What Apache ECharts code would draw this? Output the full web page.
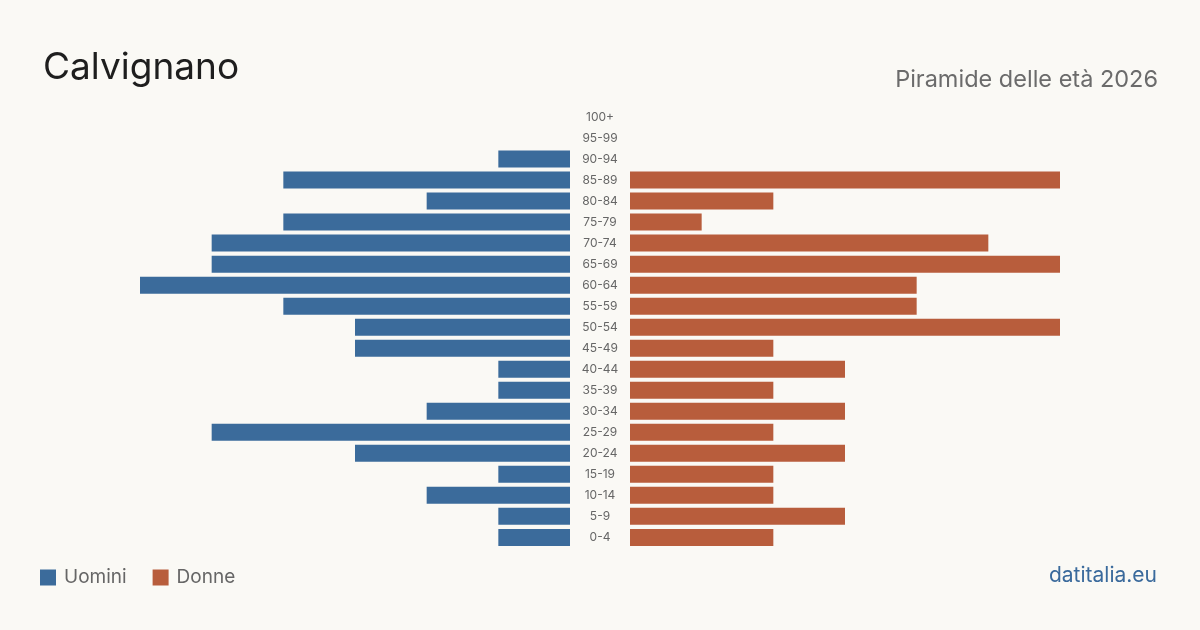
<!DOCTYPE html>
<html>
<head>
<meta charset="utf-8">
<script src="https://cdn.jsdelivr.net/npm/echarts@6/dist/echarts.min.js"></script>
<style>
html,body{margin:0;padding:0;background:#faf9f5;}
#c{width:1200px;height:630px;}
</style>
</head>
<body>
<div id="c"></div>
<script>
const ageGroups = ['0-4','5-9','10-14','15-19','20-24','25-29','30-34','35-39','40-44','45-49','50-54','55-59','60-64','65-69','70-74','75-79','80-84','85-89','90-94','95-99','100+'];
const uomini = [1,1,2,1,3,5,2,1,1,3,3,4,6,5,5,4,2,4,1,0,0];
const donne  = [2,3,2,2,3,2,3,2,3,2,6,4,4,6,5,1,2,6,0,0,0];
const axisMax = 6;

const FONT = 'Inter, "Noto Sans", sans-serif';
const chart = echarts.init(document.getElementById('c'));
const gridTop = 106.5, gridH = 441.4;
chart.setOption({
  backgroundColor: '#faf9f5',
  animation: false,
  title: [
    {text: 'Calvignano', left: 38, top: 44, textStyle: {fontFamily: FONT, fontSize: 37, fontWeight: 'normal', color: '#1e1e1e'}},
    {text: 'Piramide delle età 2026', right: 37, top: 63, textStyle: {fontFamily: FONT, fontSize: 23.5, fontWeight: 'normal', color: '#6b6b6b'}}
  ],
  legend: {
    left: 40, top: 568, padding: 0, itemWidth: 16, itemHeight: 16, itemGap: 26, icon: 'rect',
    textStyle: {fontFamily: FONT, fontSize: 19, color: '#666', padding: [0, 0, 0, 3]},
    data: ['Uomini', 'Donne']
  },
  graphic: [{
    type: 'text', right: 43, top: 565,
    style: {text: 'datitalia.eu', fontFamily: FONT, fontSize: 21, fill: '#3a6a9c'}
  }],
  grid: [
    {left: 140, width: 430, top: gridTop, height: gridH},
    {left: 630, width: 430, top: gridTop, height: gridH}
  ],
  xAxis: [
    {gridIndex: 0, type: 'value', min: 0, max: axisMax, inverse: true, show: false},
    {gridIndex: 1, type: 'value', min: 0, max: axisMax, show: false}
  ],
  yAxis: [
    {gridIndex: 0, type: 'category', data: ageGroups, position: 'right',
     axisLine: {show: false}, axisTick: {show: false},
     axisLabel: {margin: 30, align: 'center', fontFamily: FONT, fontSize: 12, color: '#666'}},
    {gridIndex: 1, type: 'category', data: ageGroups, show: false}
  ],
  series: [
    {name: 'Uomini', type: 'bar', xAxisIndex: 0, yAxisIndex: 0, data: uomini, barWidth: 17,
     itemStyle: {color: '#3b6b9b'}},
    {name: 'Donne', type: 'bar', xAxisIndex: 1, yAxisIndex: 1, data: donne, barWidth: 17,
     itemStyle: {color: '#b85d3c'}}
  ]
});
</script>
</body>
</html>
